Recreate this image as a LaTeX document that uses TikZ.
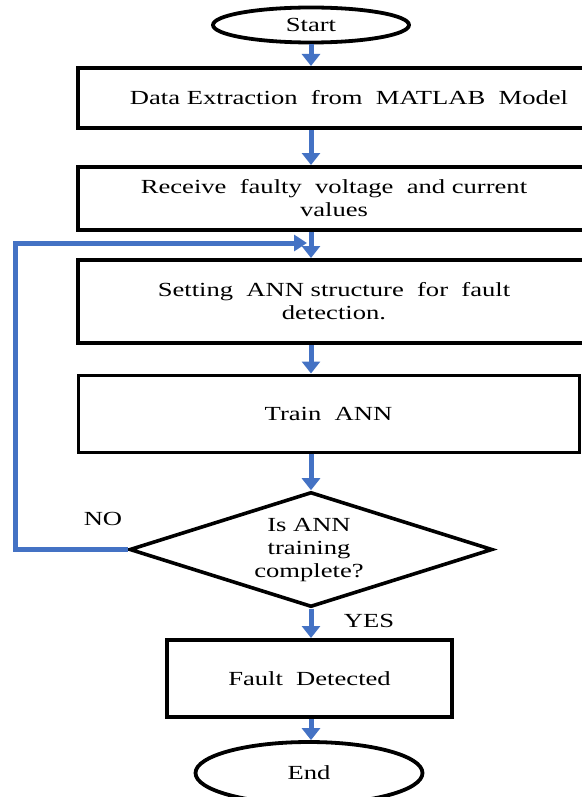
\documentclass[tikz,border=0pt]{standalone}
\usepackage{fontspec}
\setmainfont{Liberation Serif}[FakeStretch=1.33]
\usetikzlibrary{shapes.geometric,arrows.meta}
\definecolor{flowblue}{RGB}{68,114,196}
\tikzset{
  txt/.style={font=\fontsize{20}{23}\selectfont, align=center, text=black},
  procbox/.style={txt, draw=black, line width=4pt, rectangle, inner sep=0pt},
  terminal/.style={txt, draw=black, line width=3.8pt, ellipse, inner sep=0pt},
  decision/.style={draw=black, line width=3.6pt, diamond, inner sep=0pt},
  flow/.style={draw=flowblue, line width=5pt, -{Triangle[width=18pt,length=12pt]}},
  backflow/.style={draw=flowblue, line width=5pt, -{Triangle[width=16pt,length=13pt]}},
  tag/.style={txt}
}
\begin{document}
\begin{tikzpicture}[x=1pt, y=-1pt]
  \useasboundingbox[fill=white] (0,0) rectangle (581,797);

  % main axis of the flow
  \coordinate (ax) at (311,0);

  \node[terminal, minimum width=196pt, minimum height=35pt] (start) at (311,25) {Start};
  \node[procbox, minimum width=542pt, minimum height=60pt] (b1) at (349,98)
    {Data Extraction~ from~ MATLAB~ Model};
  \node[procbox, minimum width=512pt, minimum height=63pt] (b2) at (334,198.5)
    {Receive~ faulty~ voltage~ and current\\values};
  \node[procbox, minimum width=512pt, minimum height=83pt] (b3) at (334,301.5)
    {Setting~ ANN structure~ for~ fault\\detection.};
  \node[procbox, line width=3pt, minimum width=501pt, minimum height=77pt] (b4) at (328.5,413.5)
    {Train~ ANN};
  \node[decision, minimum width=363pt, minimum height=115pt] (dec) at (311,549.5) {};
  \node[txt] (dectext) at (309,550) {Is ANN\\training\\complete?};
  \node[procbox, minimum width=285pt, minimum height=77pt] (b5) at (309.5,678.5)
    {Fault~ Detected};
  \node[terminal, minimum width=227pt, minimum height=62pt] (end) at (309,773) {End};

  \node[tag] (no) at (103,519) {NO};
  \node[tag] (yes) at (369,621) {YES};

  % forward connectors
  \draw[flow] (start.south -| ax) -- (b1.north -| ax);
  \draw[flow] (b1.south -| ax) -- (b2.north -| ax);
  \draw[flow] (b2.south -| ax) -- (b3.north -| ax);
  \draw[flow] (b3.south -| ax) -- (b4.north -| ax);
  \draw[flow] (b4.south -| ax) -- (dec.north);
  \draw[flow] (dec.south) -- (b5.north -| ax);
  \draw[flow] (b5.south -| ax) -- (end.north -| ax);

  % retry loop from the decision back into the flow
  \coordinate (loopx) at (15,0);
  \coordinate (join) at (307,243);
  \draw[backflow] (dec.west) -- (dec.west -| loopx) -- (join -| loopx) -- (join);
\end{tikzpicture}
\end{document}
